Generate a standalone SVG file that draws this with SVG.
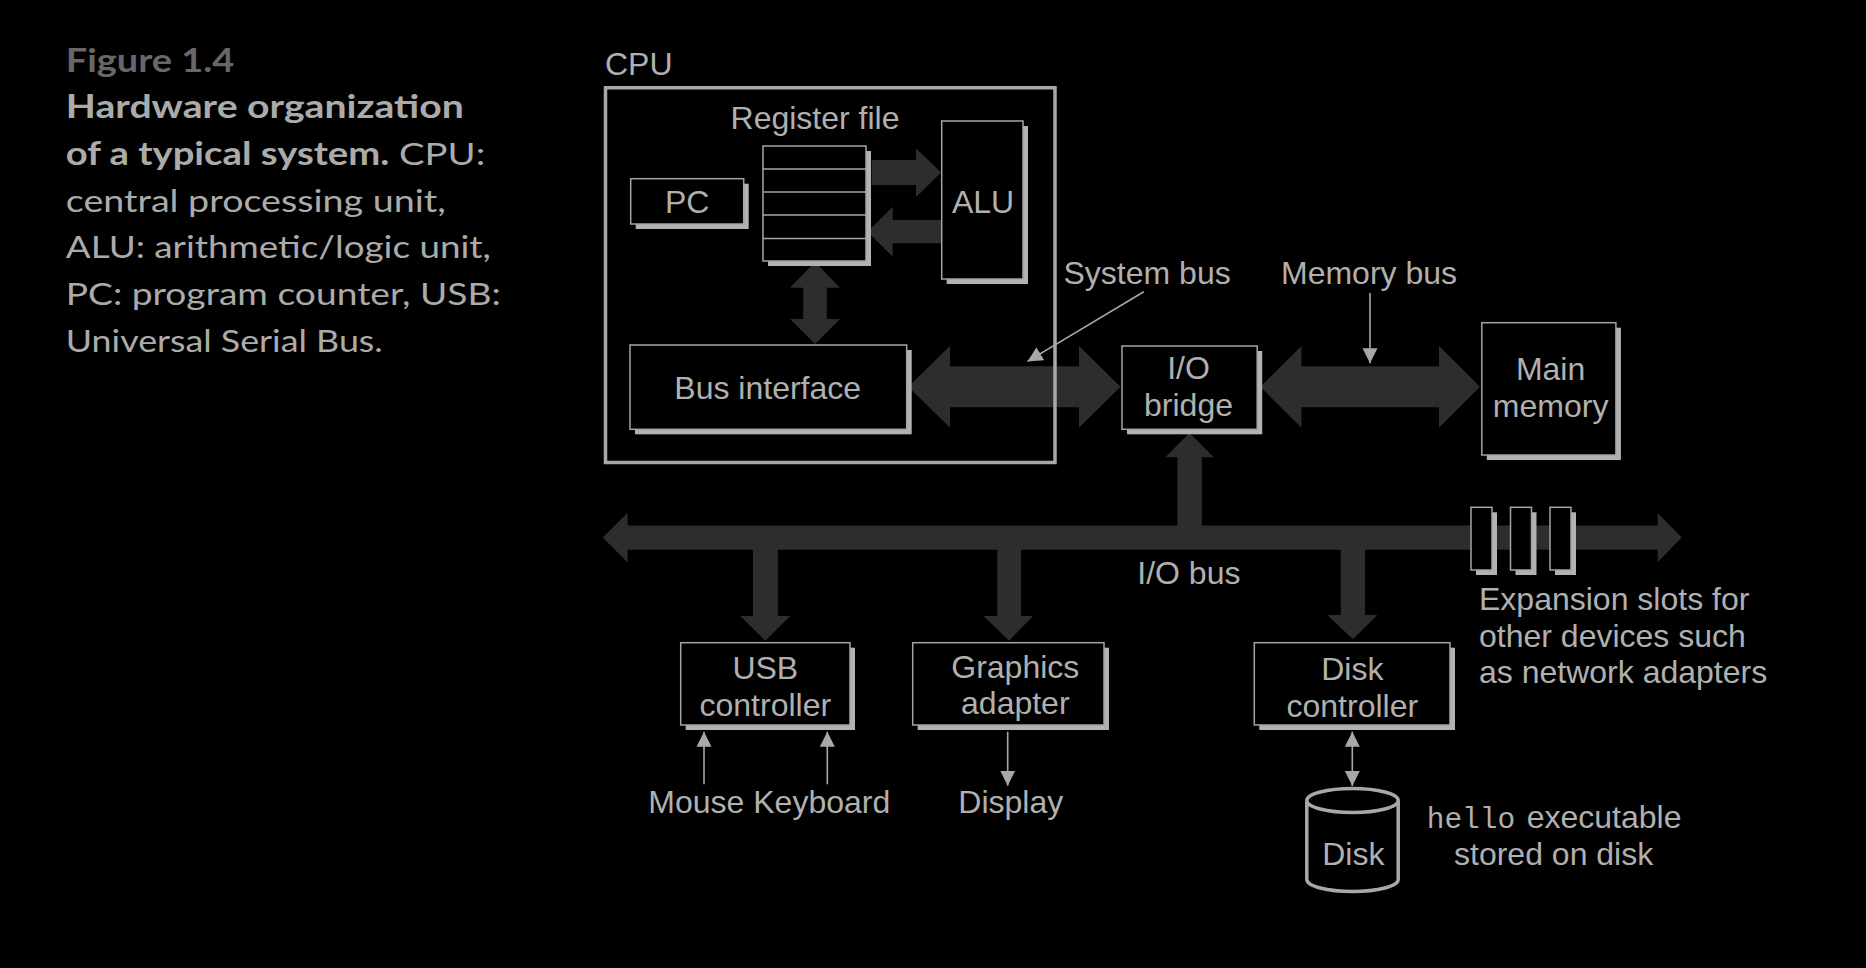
<svg xmlns="http://www.w3.org/2000/svg" width="1866" height="968" viewBox="0 0 1866 968">
<defs>
<style>
.t{font-family:"Liberation Sans",Arial,sans-serif;font-size:32px;fill:#b0b0b0}
.tc{font-family:"Liberation Sans",Arial,sans-serif;font-size:32px;fill:#b0b0b0;text-anchor:middle}
.mono{font-family:"Liberation Mono","Courier New",monospace;font-size:29.5px;fill:#b0b0b0}
.cap{font-family:Lato,"Open Sans",sans-serif;font-size:31.5px;fill:#ababab}
.capb{font-weight:bold}
.box{fill:#000;stroke:#a4a4a4;stroke-width:1.5}
.sh{fill:#b2b2b2;stroke:none}
.bus{fill:#2d2d2d;stroke:none}
.ptr{stroke:#a8a8a8;stroke-width:1.6;fill:none}
.cpu{fill:none;stroke:#a8a8a8;stroke-width:3.5}
.disk{fill:#000;stroke:#a8a8a8;stroke-width:3.5}
</style>
<marker id="ah" markerUnits="userSpaceOnUse" markerWidth="16" markerHeight="16" viewBox="0 0 16 16" refX="15" refY="8" orient="auto-start-reverse">
<path d="M0,0.5 L15,8 L0,15.5 Z" fill="#a8a8a8"/>
</marker>
</defs>
<rect width="1866" height="968" fill="#000"/>

<g id="caption">
<text class="cap" x="65.8" y="71.7" style="fill:#676767;font-weight:bold" textLength="168.4" lengthAdjust="spacingAndGlyphs">Figure 1.4</text>
<text class="cap capb" x="65.8" y="118.3" textLength="398" lengthAdjust="spacingAndGlyphs">Hardware organization</text>
<text class="cap" x="65.8" y="165" textLength="419.5" lengthAdjust="spacingAndGlyphs"><tspan class="capb">of a typical system.</tspan> CPU:</text>
<text class="cap" x="65.8" y="211.7" textLength="380" lengthAdjust="spacingAndGlyphs">central processing unit,</text>
<text class="cap" x="65.8" y="258.3" textLength="425" lengthAdjust="spacingAndGlyphs">ALU: arithmetic/logic unit,</text>
<text class="cap" x="65.8" y="305" textLength="435" lengthAdjust="spacingAndGlyphs">PC: program counter, USB:</text>
<text class="cap" x="65.8" y="351.7" textLength="317" lengthAdjust="spacingAndGlyphs">Universal Serial Bus.</text>
</g>

<g id="connectors">
<!-- register file -> ALU -->
<polygon class="bus" points="871.7,160 916,160 916,148.3 941,172.5 916,197.3 916,185 871.7,185"/>
<!-- ALU -> register file -->
<polygon class="bus" points="941.7,220 892.7,220 892.7,206.7 867.7,231.7 892.7,256.7 892.7,243.3 941.7,243.3"/>
<!-- register file <-> bus interface -->
<polygon class="bus" points="815,262 840,287.7 826.8,287.7 826.8,319 840,319 815,344 790,319 803.2,319 803.2,287.7 790,287.7"/>
<!-- system bus -->
<polygon class="bus" points="908.3,386.8 950,346 950,366.3 1079,366.3 1079,346 1120.5,386.8 1079,427.8 1079,407.3 950,407.3 950,427.8"/>
<!-- memory bus -->
<polygon class="bus" points="1260.4,386.8 1301.5,346 1301.5,366.3 1439,366.3 1439,346 1480,386.8 1439,427.8 1439,407.3 1301.5,407.3 1301.5,427.8"/>
<!-- I/O bus -->
<polygon class="bus" points="602.7,537.5 627.6,512.7 627.6,525.5 1657.7,525.5 1657.7,513 1681.7,537.5 1657.7,562.3 1657.7,549.7 627.6,549.7 627.6,562.5"/>
<!-- up to I/O bridge -->
<polygon class="bus" points="1189.5,432.7 1213.7,457.2 1201.8,457.2 1201.8,530 1177.3,530 1177.3,457.2 1165.3,457.2"/>
<!-- down to USB -->
<polygon class="bus" points="752.9,545 777.8,545 777.8,616 790.3,616 765.3,640.7 740.3,616 752.9,616"/>
<!-- down to graphics -->
<polygon class="bus" points="997.3,545 1021,545 1021,616 1033,616 1009.1,640.7 983.4,616 997.3,616"/>
<!-- down to disk controller -->
<polygon class="bus" points="1340.8,545 1365,545 1365,615 1377.3,615 1352.9,639.3 1327.3,615 1340.8,615"/>
<!-- pointers -->
<line class="ptr" x1="1143.8" y1="291.7" x2="1027.5" y2="361.4" marker-end="url(#ah)"/>
<line class="ptr" x1="1370" y1="293" x2="1370" y2="363.3" marker-end="url(#ah)"/>
<line class="ptr" x1="704" y1="784.3" x2="704" y2="731.7" marker-end="url(#ah)"/>
<line class="ptr" x1="827.3" y1="784.3" x2="827.3" y2="731.7" marker-end="url(#ah)"/>
<line class="ptr" x1="1007.7" y1="731.7" x2="1007.7" y2="785.7" marker-end="url(#ah)"/>
<line class="ptr" x1="1352.3" y1="731.7" x2="1352.3" y2="786" marker-start="url(#ah)" marker-end="url(#ah)"/>
</g>

<g id="cpu">
<rect class="cpu" x="605.5" y="87.75" width="449.5" height="374.75"/>
<text class="t" x="605" y="75">CPU</text>
</g>

<g id="register-file">
<rect class="sh" x="768" y="151" width="103" height="115"/>
<rect class="box" x="763" y="146" width="103" height="115"/>
<path d="M763,169 H866 M763,192 H866 M763,215 H866 M763,238.5 H866" stroke="#a4a4a4" stroke-width="1.5"/>
<text class="tc" x="815" y="129.3">Register file</text>
</g>

<g id="pc">
<rect class="sh" x="635.7" y="183.7" width="113" height="45.3"/>
<rect class="box" x="630.7" y="178.7" width="113" height="45.3"/>
<text class="tc" x="687.2" y="213">PC</text>
</g>

<g id="alu">
<rect class="sh" x="946.7" y="126" width="81.3" height="158"/>
<rect class="box" x="941.7" y="121" width="81.3" height="158"/>
<text class="tc" x="983" y="212.7">ALU</text>
</g>

<g id="bus-interface">
<rect class="sh" x="635" y="350" width="276.7" height="84.3"/>
<rect class="box" x="630" y="345" width="276.7" height="84.3"/>
<text class="tc" x="767.7" y="399.3">Bus interface</text>
</g>

<g id="io-bridge">
<rect class="sh" x="1127" y="351" width="135.2" height="83.3"/>
<rect class="box" x="1122" y="346" width="135.2" height="83.3"/>
<text class="tc" x="1188.5" y="379.3">I/O</text>
<text class="tc" x="1188.5" y="416">bridge</text>
</g>

<g id="main-memory">
<rect class="sh" x="1486.8" y="327.7" width="134.1" height="132.3"/>
<rect class="box" x="1481.8" y="322.7" width="134.1" height="132.3"/>
<text class="tc" x="1550.6" y="380">Main</text>
<text class="tc" x="1550.6" y="416.7">memory</text>
</g>

<g id="bus-labels">
<text class="t" x="1063.5" y="284.3">System bus</text>
<text class="t" x="1281" y="284.3">Memory bus</text>
<text class="t" x="1137.3" y="584.3">I/O bus</text>
</g>

<g id="expansion-slots">
<rect class="sh" x="1476" y="512.3" width="21" height="62.7"/>
<rect class="box" x="1471" y="507.3" width="21" height="62.7"/>
<rect class="sh" x="1515.5" y="512.3" width="21" height="62.7"/>
<rect class="box" x="1510.5" y="507.3" width="21" height="62.7"/>
<rect class="sh" x="1555" y="512.3" width="21" height="62.7"/>
<rect class="box" x="1550" y="507.3" width="21" height="62.7"/>
<text class="t" x="1479" y="610">Expansion slots for</text>
<text class="t" x="1479" y="646.7">other devices such</text>
<text class="t" x="1479" y="683.3">as network adapters</text>
</g>

<g id="usb-controller">
<rect class="sh" x="685.7" y="647.7" width="169.3" height="82.3"/>
<rect class="box" x="680.7" y="642.7" width="169.3" height="82.3"/>
<text class="tc" x="765.3" y="679.3">USB</text>
<text class="tc" x="765.3" y="715.7">controller</text>
</g>

<g id="graphics-adapter">
<rect class="sh" x="917.7" y="647.7" width="191.3" height="82.3"/>
<rect class="box" x="912.7" y="642.7" width="191.3" height="82.3"/>
<text class="tc" x="1015.3" y="678.3">Graphics</text>
<text class="tc" x="1015.3" y="714.3">adapter</text>
</g>

<g id="disk-controller">
<rect class="sh" x="1259.3" y="647.7" width="195.7" height="82.3"/>
<rect class="box" x="1254.3" y="642.7" width="195.7" height="82.3"/>
<text class="tc" x="1352.3" y="680">Disk</text>
<text class="tc" x="1352.3" y="716.7">controller</text>
</g>

<g id="devices">
<text class="t" x="648.3" y="813.3">Mouse Keyboard</text>
<text class="tc" x="1010.8" y="813.3">Display</text>
</g>

<g id="disk">
<path class="disk" d="M1306.8,800.5 A45.7,12 0 0,1 1398.2,800.5 A45.7,12 0 0,1 1306.8,800.5 M1306.8,800.5 L1306.8,879.5 A45.7,12 0 0,0 1398.2,879.5 L1398.2,800.5"/>
<text class="tc" x="1353.3" y="865">Disk</text>
<text x="1426.7" y="828.3"><tspan class="mono">hello</tspan><tspan class="t" x="1526.7">executable</tspan></text>
<text class="t" x="1454" y="865">stored on disk</text>
</g>
</svg>
